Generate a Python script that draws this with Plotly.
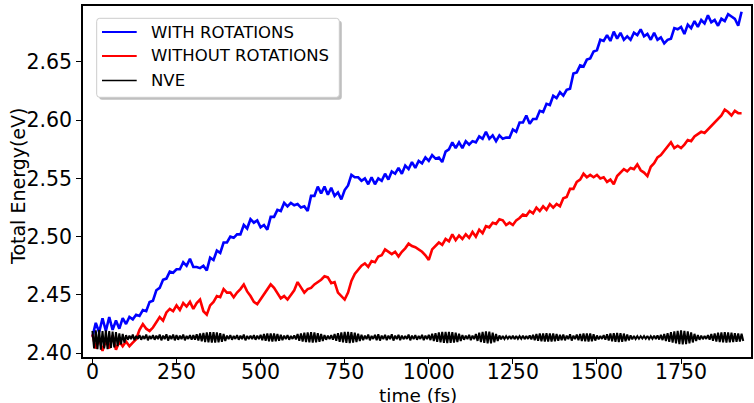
import plotly.graph_objects as go

# Sampling intervals of the stored trajectories (fs)
STEP_FS = 10
NVE_STEP_FS = 5

SERIES_NAMES = ["WITH ROTATIONS", "WITHOUT ROTATIONS", "NVE"]
SERIES_COLORS = ["#0000ff", "#ff0000", "#000000"]

# Total energy (eV), one value every STEP_FS femtoseconds starting at t = 0
WITH_ROT = [
    2.414, 2.426, 2.418, 2.430, 2.419, 2.431, 2.420, 2.428, 2.421, 2.430,
    2.425, 2.431, 2.429, 2.433, 2.432, 2.437, 2.436, 2.444, 2.445, 2.454,
    2.456, 2.463, 2.464, 2.470, 2.469, 2.472, 2.472, 2.478, 2.475, 2.481,
    2.474, 2.474, 2.473, 2.475, 2.471, 2.482, 2.480, 2.488, 2.486, 2.495,
    2.495, 2.500, 2.499, 2.502, 2.502, 2.510, 2.507, 2.515, 2.512, 2.514,
    2.508, 2.510, 2.506, 2.517, 2.517, 2.523, 2.522, 2.529, 2.526, 2.529,
    2.527, 2.528, 2.525, 2.526, 2.522, 2.535, 2.535, 2.543, 2.537, 2.543,
    2.536, 2.542, 2.535, 2.538, 2.532, 2.540, 2.544, 2.553, 2.551, 2.551,
    2.548, 2.550, 2.545, 2.551, 2.545, 2.550, 2.548, 2.554, 2.549, 2.556,
    2.554, 2.559, 2.554, 2.561, 2.558, 2.564, 2.559, 2.565, 2.563, 2.568,
    2.565, 2.570, 2.567, 2.568, 2.564, 2.573, 2.575, 2.581, 2.576, 2.581,
    2.576, 2.582, 2.579, 2.582, 2.581, 2.586, 2.584, 2.590, 2.584, 2.587,
    2.582, 2.587, 2.584, 2.585, 2.585, 2.592, 2.590, 2.598, 2.598, 2.604,
    2.597, 2.601, 2.601, 2.608, 2.607, 2.614, 2.613, 2.621, 2.619, 2.624,
    2.621, 2.626, 2.627, 2.640, 2.641, 2.647, 2.646, 2.652, 2.653, 2.659,
    2.660, 2.669, 2.668, 2.673, 2.668, 2.676, 2.670, 2.675, 2.669, 2.672,
    2.669, 2.675, 2.673, 2.678, 2.672, 2.674, 2.669, 2.675, 2.669, 2.671,
    2.666, 2.669, 2.670, 2.679, 2.678, 2.680, 2.674, 2.682, 2.679, 2.685,
    2.680, 2.686, 2.683, 2.690, 2.684, 2.686, 2.681, 2.687, 2.685, 2.691,
    2.689, 2.687, 2.681, 2.693,
]

WITHOUT_ROT = [
    2.416, 2.404, 2.413, 2.402, 2.411, 2.404, 2.415, 2.403, 2.410, 2.406,
    2.410, 2.406, 2.409, 2.412, 2.420, 2.425, 2.421, 2.419, 2.422, 2.426,
    2.431, 2.428, 2.435, 2.438, 2.436, 2.441, 2.437, 2.443, 2.440, 2.444,
    2.438, 2.443, 2.446, 2.436, 2.433, 2.441, 2.444, 2.449, 2.448, 2.455,
    2.452, 2.452, 2.448, 2.452, 2.455, 2.459, 2.453, 2.449, 2.444, 2.442,
    2.446, 2.450, 2.455, 2.459, 2.456, 2.452, 2.447, 2.449, 2.446, 2.450,
    2.454, 2.461, 2.457, 2.452, 2.455, 2.456, 2.459, 2.461, 2.463, 2.466,
    2.465, 2.460, 2.461, 2.452, 2.449, 2.446, 2.452, 2.462, 2.468, 2.472,
    2.475, 2.477, 2.474, 2.479, 2.478, 2.483, 2.484, 2.489, 2.487, 2.485,
    2.487, 2.483, 2.487, 2.490, 2.494, 2.492, 2.491, 2.489, 2.487, 2.484,
    2.480, 2.489, 2.492, 2.495, 2.493, 2.498, 2.496, 2.502, 2.497, 2.501,
    2.498, 2.502, 2.499, 2.504, 2.500, 2.506, 2.503, 2.509, 2.508, 2.512,
    2.511, 2.515, 2.514, 2.510, 2.512, 2.510, 2.514, 2.516, 2.519, 2.518,
    2.522, 2.520, 2.525, 2.522, 2.526, 2.523, 2.528, 2.525, 2.528, 2.526,
    2.533, 2.534, 2.541, 2.541, 2.547, 2.549, 2.554, 2.551, 2.553, 2.551,
    2.553, 2.550, 2.551, 2.547, 2.549, 2.545, 2.552, 2.555, 2.558, 2.556,
    2.559, 2.558, 2.562, 2.557, 2.555, 2.552, 2.560, 2.563, 2.568, 2.570,
    2.574, 2.578, 2.581, 2.576, 2.578, 2.576, 2.579, 2.583, 2.582, 2.586,
    2.588, 2.590, 2.589, 2.592, 2.595, 2.598, 2.601, 2.604, 2.609, 2.607,
    2.604, 2.608, 2.606, 2.606,
]

# Total energy (eV) of the NVE run, one value every NVE_STEP_FS femtoseconds
NVE = [
    2.4190, 2.4040, 2.4195, 2.4035, 2.4200, 2.4030, 2.4190, 2.4040, 2.4195, 2.4035,
    2.4190, 2.4045, 2.4185, 2.4050, 2.4180, 2.4060, 2.4170, 2.4075, 2.4165, 2.4090,
    2.4155, 2.4115, 2.4150, 2.4120, 2.4160, 2.4112, 2.4148, 2.4122, 2.4155, 2.4115,
    2.4148, 2.4122, 2.4160, 2.4110, 2.4148, 2.4122, 2.4155, 2.4115, 2.4150, 2.4120,
    2.4160, 2.4110, 2.4150, 2.4120, 2.4162, 2.4108, 2.4150, 2.4120, 2.4160, 2.4110,
    2.4155, 2.4115, 2.4150, 2.4120, 2.4160, 2.4110, 2.4148, 2.4122, 2.4155, 2.4115,
    2.4155, 2.4115, 2.4162, 2.4108, 2.4168, 2.4102, 2.4174, 2.4096, 2.4178, 2.4092,
    2.4180, 2.4090, 2.4180, 2.4090, 2.4178, 2.4092, 2.4172, 2.4098, 2.4165, 2.4105,
    2.4150, 2.4120, 2.4155, 2.4115, 2.4148, 2.4122, 2.4155, 2.4115, 2.4150, 2.4120,
    2.4160, 2.4110, 2.4148, 2.4122, 2.4150, 2.4120, 2.4155, 2.4115, 2.4150, 2.4120,
    2.4158, 2.4112, 2.4164, 2.4106, 2.4168, 2.4102, 2.4170, 2.4100, 2.4168, 2.4102,
    2.4164, 2.4106, 2.4158, 2.4112, 2.4150, 2.4120, 2.4155, 2.4115, 2.4148, 2.4122,
    2.4152, 2.4118, 2.4164, 2.4106, 2.4170, 2.4100, 2.4175, 2.4095, 2.4178, 2.4092,
    2.4180, 2.4090, 2.4178, 2.4092, 2.4172, 2.4098, 2.4165, 2.4105, 2.4155, 2.4115,
    2.4150, 2.4120, 2.4155, 2.4115, 2.4164, 2.4106, 2.4172, 2.4098, 2.4178, 2.4092,
    2.4182, 2.4088, 2.4183, 2.4087, 2.4180, 2.4090, 2.4175, 2.4095, 2.4166, 2.4104,
    2.4158, 2.4112, 2.4150, 2.4120, 2.4160, 2.4110, 2.4148, 2.4122, 2.4158, 2.4112,
    2.4162, 2.4108, 2.4150, 2.4120, 2.4158, 2.4112, 2.4150, 2.4120, 2.4162, 2.4108,
    2.4150, 2.4120, 2.4158, 2.4112, 2.4150, 2.4120, 2.4148, 2.4122, 2.4160, 2.4110,
    2.4150, 2.4120, 2.4155, 2.4115, 2.4148, 2.4122, 2.4158, 2.4112, 2.4150, 2.4120,
    2.4158, 2.4112, 2.4166, 2.4104, 2.4172, 2.4098, 2.4178, 2.4092, 2.4182, 2.4088,
    2.4183, 2.4087, 2.4182, 2.4088, 2.4180, 2.4090, 2.4175, 2.4095, 2.4166, 2.4104,
    2.4155, 2.4115, 2.4150, 2.4120, 2.4158, 2.4112, 2.4150, 2.4120, 2.4165, 2.4105,
    2.4175, 2.4095, 2.4182, 2.4088, 2.4186, 2.4084, 2.4185, 2.4085, 2.4176, 2.4094,
    2.4165, 2.4105, 2.4152, 2.4118, 2.4148, 2.4122, 2.4146, 2.4124, 2.4148, 2.4122,
    2.4150, 2.4120, 2.4147, 2.4123, 2.4146, 2.4124, 2.4150, 2.4120, 2.4148, 2.4122,
    2.4152, 2.4118, 2.4158, 2.4112, 2.4164, 2.4106, 2.4168, 2.4102, 2.4170, 2.4100,
    2.4171, 2.4099, 2.4170, 2.4100, 2.4168, 2.4102, 2.4164, 2.4106, 2.4158, 2.4112,
    2.4160, 2.4110, 2.4150, 2.4120, 2.4162, 2.4108, 2.4150, 2.4120, 2.4160, 2.4110,
    2.4165, 2.4105, 2.4168, 2.4102, 2.4170, 2.4100, 2.4168, 2.4102, 2.4162, 2.4108,
    2.4152, 2.4118, 2.4148, 2.4122, 2.4155, 2.4115, 2.4162, 2.4108, 2.4168, 2.4102,
    2.4172, 2.4098, 2.4174, 2.4096, 2.4172, 2.4098, 2.4168, 2.4102, 2.4160, 2.4110,
    2.4152, 2.4118, 2.4148, 2.4122, 2.4146, 2.4124, 2.4145, 2.4125, 2.4146, 2.4124,
    2.4148, 2.4122, 2.4146, 2.4124, 2.4150, 2.4120, 2.4153, 2.4117, 2.4158, 2.4112,
    2.4165, 2.4105, 2.4172, 2.4098, 2.4180, 2.4090, 2.4186, 2.4084, 2.4192, 2.4078,
    2.4195, 2.4075, 2.4192, 2.4078, 2.4186, 2.4084, 2.4178, 2.4092, 2.4166, 2.4104,
    2.4155, 2.4115, 2.4150, 2.4120, 2.4148, 2.4122, 2.4155, 2.4115, 2.4164, 2.4106,
    2.4170, 2.4100, 2.4175, 2.4095, 2.4178, 2.4092, 2.4180, 2.4090, 2.4178, 2.4092,
    2.4175, 2.4095, 2.4172, 2.4098, 2.4170, 2.4100, 2.4166, 2.4104,
]

X_TICKS = [0, 250, 500, 750, 1000, 1250, 1500, 1750]
Y_TICKS = [2.40, 2.45, 2.50, 2.55, 2.60, 2.65]
X_RANGE = [-28, 1958]
Y_RANGE = [2.3967, 2.698]

FONT = "DejaVu Sans"
W, H = 754, 403
M_L, M_R, M_T, M_B = 83, 3, 6, 46
PLOT_W = W - M_L - M_R
PLOT_H = H - M_T - M_B


def px(x):
    """Canvas pixel column -> paper x."""
    return (x - M_L) / PLOT_W


def py(y):
    """Canvas pixel row -> paper y."""
    return (H - M_B - y) / PLOT_H


LINE_WIDTHS = [2.6, 2.6, 2.0]
STEPS = [STEP_FS, STEP_FS, NVE_STEP_FS]

fig = go.Figure()
for name, color, values, width, step in zip(
    SERIES_NAMES, SERIES_COLORS, [WITH_ROT, WITHOUT_ROT, NVE], LINE_WIDTHS, STEPS
):
    fig.add_trace(
        go.Scatter(
            x=[i * step for i in range(len(values))],
            y=values,
            mode="lines",
            name=name,
            line=dict(color=color, width=width),
            showlegend=False,
        )
    )

axis_common = dict(
    showline=True,
    linecolor="black",
    linewidth=1.6,
    mirror=True,
    ticks="outside",
    ticklen=5,
    tickwidth=1,
    tickcolor="black",
    showgrid=False,
    zeroline=False,
    tickfont=dict(family=FONT, size=20.5, color="black"),
)

fig.update_xaxes(range=X_RANGE, tickvals=X_TICKS, ticklabelstandoff=-9, **axis_common)
fig.update_yaxes(range=Y_RANGE, tickvals=Y_TICKS, tickformat=".2f", **axis_common)

# Axis titles
fig.add_annotation(
    xref="paper", yref="paper", x=px(417.5), y=py(383), xanchor="center", yanchor="top",
    text="time (fs)", showarrow=False, font=dict(family=FONT, size=18.5, color="black"),
)
fig.add_annotation(
    xref="paper", yref="paper", x=px(18), y=py(187), xanchor="center", yanchor="middle",
    text="Total Energy(eV)", textangle=-90, showarrow=False,
    font=dict(family=FONT, size=19, color="black"),
)

# Legend box drawn by hand: drop shadow, rounded frame, sample lines and labels
bx0, by0, bx1, by1 = 96.7, 18.3, 339.3, 97.3
r = 3.0
rx, ry = r / PLOT_W, r / PLOT_H


def rounded_path(x0, y0, x1, y1):
    X0, X1 = px(x0), px(x1)
    Y0, Y1 = py(y1), py(y0)  # bottom, top in paper units
    return (
        f"M {X0 + rx},{Y0} L {X1 - rx},{Y0} Q {X1},{Y0} {X1},{Y0 + ry} "
        f"L {X1},{Y1 - ry} Q {X1},{Y1} {X1 - rx},{Y1} "
        f"L {X0 + rx},{Y1} Q {X0},{Y1} {X0},{Y1 - ry} "
        f"L {X0},{Y0 + ry} Q {X0},{Y0} {X0 + rx},{Y0} Z"
    )


fig.add_shape(
    type="path", xref="paper", yref="paper",
    path=rounded_path(bx0 + 2.5, by0 + 2.5, bx1 + 2.5, by1 + 2.5),
    fillcolor="rgba(128,128,128,0.5)", line=dict(width=0), layer="above",
)
fig.add_shape(
    type="path", xref="paper", yref="paper",
    path=rounded_path(bx0, by0, bx1, by1),
    fillcolor="white", line=dict(color="#cccccc", width=1), layer="above",
)

row_y = [32.0, 56.0, 80.5]
legend_widths = [2.0, 2.0, 1.3]
for name, color, yy, lw in zip(SERIES_NAMES, SERIES_COLORS, row_y, legend_widths):
    fig.add_shape(
        type="line", xref="paper", yref="paper",
        x0=px(102), x1=px(136.7), y0=py(yy), y1=py(yy),
        line=dict(color=color, width=lw), layer="above",
    )
    fig.add_annotation(
        xref="paper", yref="paper", x=px(149), y=py(yy),
        text=name, showarrow=False, xanchor="left", yanchor="middle",
        font=dict(family=FONT, size=16.5, color="black"),
    )

fig.update_layout(
    width=W,
    height=H,
    margin=dict(l=M_L, r=M_R, t=M_T, b=M_B, autoexpand=False),
    paper_bgcolor="white",
    plot_bgcolor="white",
    showlegend=False,
)

fig.write_html("out.html")
